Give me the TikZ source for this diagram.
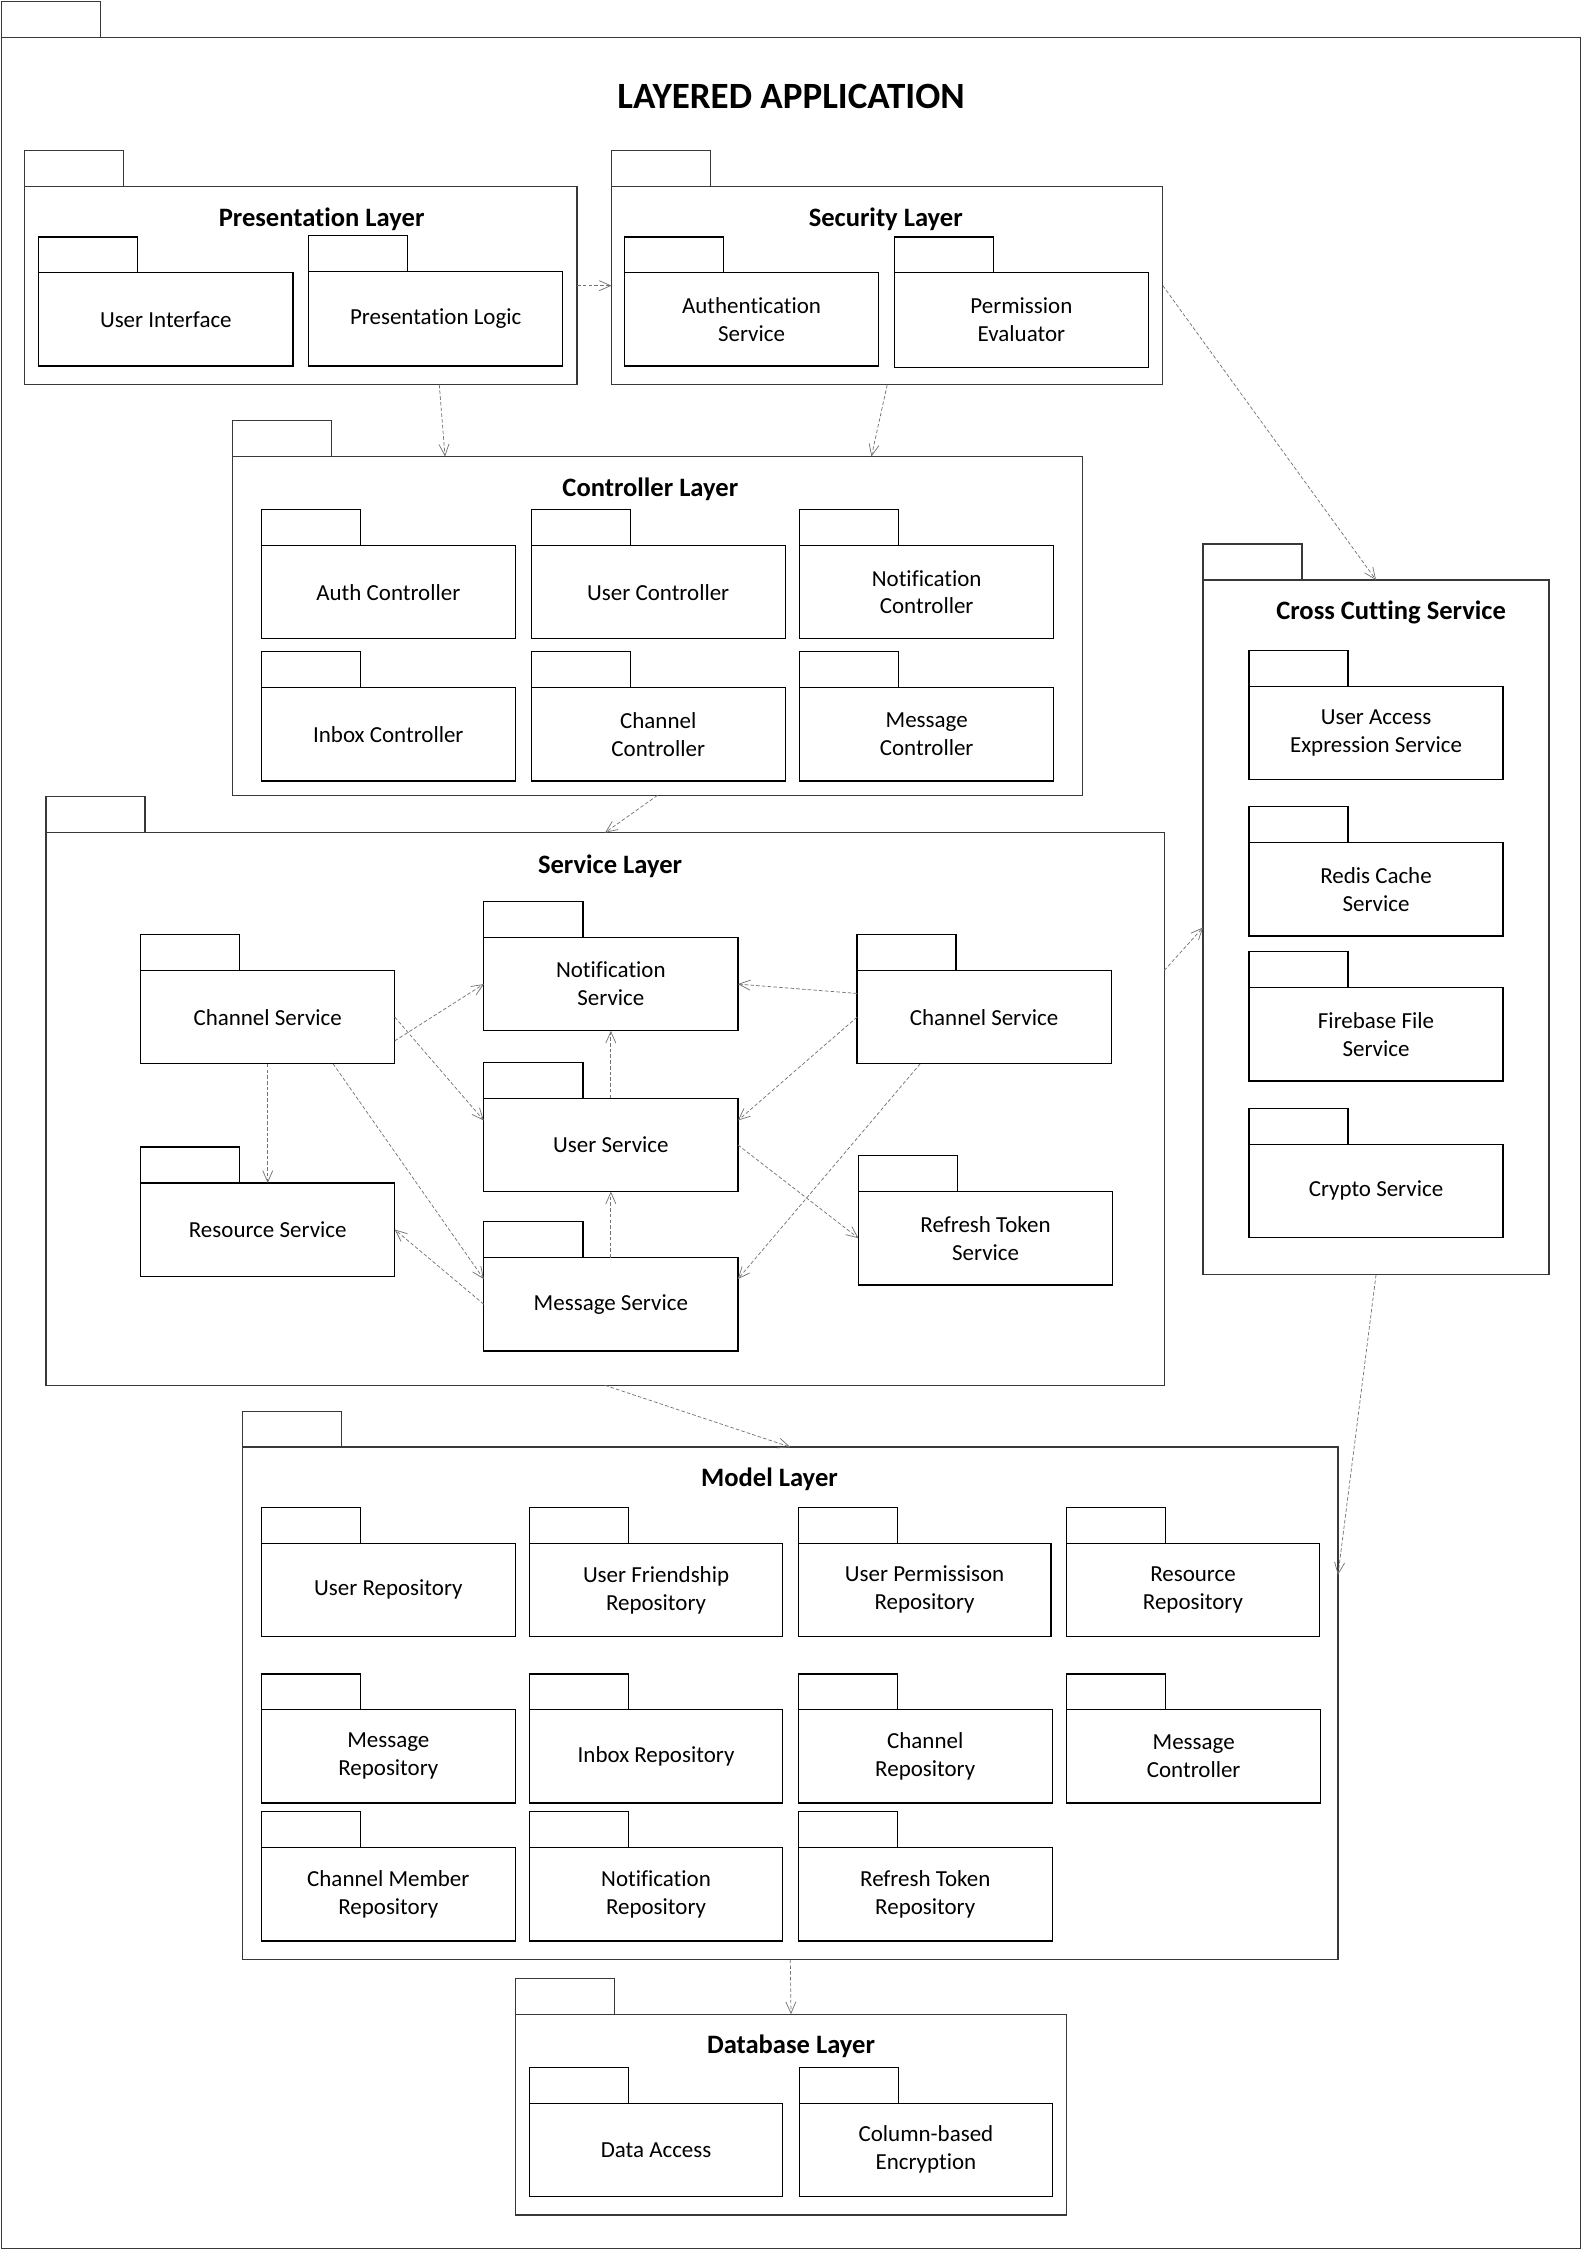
\documentclass[tikz,border=0pt]{standalone}
\usepackage{fontspec}
\setmainfont{Carlito}[Ligatures=NoCommon]
\usetikzlibrary{arrows.meta,calc}

\tikzset{
  pkgbody/.style={draw=black, line width=0.9pt, rectangle, inner sep=0pt, outer sep=0pt,
    align=center, font=\fontsize{16}{19.5}\selectfont},
  layerbody/.style={draw=black!78, line width=0.9pt, rectangle, inner sep=0pt, outer sep=0pt},
  tabline/.style={draw=black, line width=0.9pt},
  layertab/.style={draw=black!78, line width=0.9pt},
  layertitle/.style={font=\bfseries\fontsize{18.5}{22}\selectfont, inner sep=0pt},
  apptitle/.style={font=\bfseries\fontsize{25.8}{30}\selectfont, inner sep=0pt},
  dep/.style={draw=black!55, line width=0.5pt, dash pattern=on 2.5pt off 1.5pt,
    -{Straight Barb[length=8pt,width=7pt]}},
}

% package with a tab: name, x1, y1, x2, y2, label
\newcommand\pkgbox[6]{%
  \node[pkgbody, minimum width={(#4-#2)*1pt}, minimum height={(#5-#3)*1pt}]
    (#1) at ({(#2+#4)/2},{(#3+#5)/2}) {#6};
  \draw[tabline] (#1.north west) rectangle ++(69,-25);
}
% layer frame with a tab: name, x1, y1, x2, y2
\newcommand\layerbox[5]{%
  \node[layerbody, minimum width={(#4-#2)*1pt}, minimum height={(#5-#3)*1pt}]
    (#1) at ({(#2+#4)/2},{(#3+#5)/2}) {};
  \draw[layertab] (#1.north west) rectangle ++(69,-25);
}

\begin{document}
\begin{tikzpicture}[x=1pt,y=-1pt]
\fill[white] (0,0) rectangle (1102,1568);
\useasboundingbox (0,0) rectangle (1102,1568);

% outer application frame
\layerbox{app}{1}{26}{1101}{1566}
\node[apptitle] (appT) at (551,67) {LAYERED APPLICATION};

% layers
\layerbox{pres}{17}{130}{402}{268}
\layerbox{sec}{426}{130}{810}{268}
\layerbox{ctrl}{162}{318}{754}{554}
\layerbox{svc}{32}{580}{811}{965}
\layerbox{cross}{838}{404}{1079}{888}
\layerbox{model}{169}{1008}{932}{1365}
\layerbox{db}{359}{1403}{743}{1543}

\node[layertitle] (presT) at (224,152.5) {Presentation Layer};
\node[layertitle] (secT) at (617,152.5) {Security Layer};
\node[layertitle] (ctrlT) at (453,340.5) {Controller Layer};
\node[layertitle] (svcT) at (425,603.5) {Service Layer};
\node[layertitle] (crossT) at (969,426.5) {Cross Cutting Service};
\node[layertitle] (modelT) at (536,1030.5) {Model Layer};
\node[layertitle] (dbT) at (551,1425.5) {Database Layer};

% presentation layer
\pkgbox{ui}{27}{190}{204}{255}{User Interface}
\pkgbox{plogic}{215}{189}{392}{255}{Presentation Logic}
% security layer
\pkgbox{auth}{435}{190}{612}{255}{Authentication\\Service}
\pkgbox{perm}{623}{190}{800}{256}{Permission\\Evaluator}
% controller layer
\pkgbox{authC}{182}{380}{359}{445}{Auth Controller}
\pkgbox{userC}{370}{380}{547}{445}{User Controller}
\pkgbox{notifC}{557}{380}{734}{445}{Notification\\Controller}
\pkgbox{inboxC}{182}{479}{359}{544}{Inbox Controller}
\pkgbox{chanC}{370}{479}{547}{544}{Channel\\Controller}
\pkgbox{msgC}{557}{479}{734}{544}{Message\\Controller}
% service layer
\pkgbox{chL}{98}{676}{275}{741}{Channel Service}
\pkgbox{notifS}{337}{653}{514}{718}{Notification\\Service}
\pkgbox{chR}{597}{676}{774}{741}{Channel Service}
\pkgbox{userS}{337}{765}{514}{830}{User Service}
\pkgbox{resS}{98}{824}{275}{889}{Resource Service}
\pkgbox{rtS}{598}{830}{775}{895}{Refresh Token\\Service}
\pkgbox{msgS}{337}{876}{514}{941}{Message Service}
% cross cutting service
\pkgbox{uae}{870}{478}{1047}{543}{User Access\\Expression Service}
\pkgbox{redis}{870}{587}{1047}{652}{Redis Cache\\Service}
\pkgbox{fire}{870}{688}{1047}{753}{Firebase File\\Service}
\pkgbox{crypto}{870}{797}{1047}{862}{Crypto Service}
% model layer
\pkgbox{userR}{182}{1075}{359}{1140}{User Repository}
\pkgbox{friendR}{369}{1075}{545}{1140}{User Friendship\\Repository}
\pkgbox{permR}{556}{1075}{732}{1140}{User Permissison\\Repository}
\pkgbox{resR}{743}{1075}{919}{1140}{Resource\\Repository}
\pkgbox{msgR}{182}{1191}{359}{1256}{Message\\Repository}
\pkgbox{inboxR}{369}{1191}{545}{1256}{Inbox Repository}
\pkgbox{chanR}{556}{1191}{733}{1256}{Channel\\Repository}
\pkgbox{msgCM}{743}{1191}{920}{1256}{Message\\Controller}
\pkgbox{memberR}{182}{1287}{359}{1352}{Channel Member\\Repository}
\pkgbox{notifR}{369}{1287}{545}{1352}{Notification\\Repository}
\pkgbox{rtR}{556}{1287}{733}{1352}{Refresh Token\\Repository}
% database layer
\pkgbox{dal}{369}{1465}{545}{1530}{Data Access}
\pkgbox{enc}{557}{1465}{733}{1530}{Column-based\\Encryption}

% dependencies between layers
\draw[dep] (pres.east) -- (sec.west);
\draw[dep] ([xshift=96.5pt]pres.south) -- ([xshift=-148pt]ctrl.north);
\draw[dep] (sec.south) -- ([xshift=149pt]ctrl.north);
\draw[dep] (ctrl.south) -- (svc.north);
\draw[dep] (svc.south) -- (model.north);
\draw[dep] (model.south) -- (db.north);
\draw[dep] (sec.east) -- (cross.north);
\draw[dep] ([yshift=96.5pt]svc.east) -- (cross.west);
\draw[dep] (cross.south) -- ([yshift=89.5pt]model.east);

% dependencies inside the service layer
\draw[dep] ([yshift=-16.5pt]chL.east) -- (notifS.west);
\draw[dep] (chL.east) -- ([yshift=17pt]userS.west);
\draw[dep] (chL.south) -- (resS.north);
\draw[dep] ([xshift=45.5pt]chL.south) -- ([yshift=17.5pt]msgS.west);
\draw[dep] (msgS.west) -- (resS.east);
\draw[dep] (userS.north) -- (notifS.south);
\draw[dep] (msgS.north) -- (userS.south);
\draw[dep] ([yshift=16.5pt]chR.west) -- (notifS.east);
\draw[dep] (chR.west) -- ([yshift=17pt]userS.east);
\draw[dep] ([xshift=-44.5pt]chR.south) -- ([yshift=17.5pt]msgS.east);
\draw[dep] (userS.east) -- (rtS.west);
\end{tikzpicture}
\end{document}
